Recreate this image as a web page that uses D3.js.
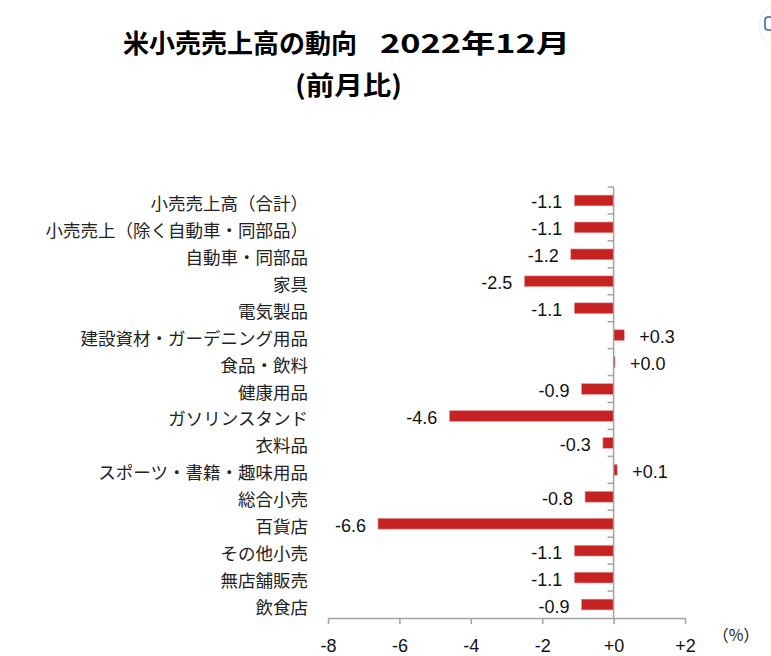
<!DOCTYPE html>
<html>
<head>
<meta charset="utf-8">
<script src="https://cdn.jsdelivr.net/npm/d3@7"></script>
<style>
  body { margin: 0; background: #fff; }
  svg { display: block; }
</style>
</head>
<body>
<div id="chart"></div>
<script>
var width = 771;
var height = 656;

// data
var categories = [
  "小売売上高（合計）",
  "小売売上（除く自動車・同部品）",
  "自動車・同部品",
  "家具",
  "電気製品",
  "建設資材・ガーデニング用品",
  "食品・飲料",
  "健康用品",
  "ガソリンスタンド",
  "衣料品",
  "スポーツ・書籍・趣味用品",
  "総合小売",
  "百貨店",
  "その他小売",
  "無店舗販売",
  "飲食店"
];
var values = [-1.1, -1.1, -1.2, -2.5, -1.1, 0.3, 0.04, -0.9, -4.6, -0.3, 0.1, -0.8, -6.6, -1.1, -1.1, -0.9];
var xTicks = [-8, -6, -4, -2, 0, 2];

var rows = categories.map((c, i) => ({ name: c, value: values[i] }));

var svg = d3.select("#chart")
  .append("svg")
  .attr("width", width)
  .attr("height", height)
  .attr("viewBox", `0 0 ${width} ${height}`);

var x = d3.scaleLinear().domain([-8, 2]).range([328, 685]);
var y = d3.scaleBand()
  .domain(categories)
  .range([187, 618])
  .paddingInner(0.6)
  .paddingOuter(0.3);

var numFont = "'Liberation Sans', Arial, 'Noto Sans CJK JP', sans-serif";
var jpFont = "'Noto Sans CJK JP', 'Liberation Sans', sans-serif";
var axisColor = "#a3a3a3";

// plain hyphen for negatives, "+" for zero and up
function signed(v, digits) {
  var s = Math.abs(v).toFixed(digits);
  return (v < 0 ? "-" : "+") + s;
}

// title
svg.append("text")
  .attr("x", 123).attr("y", 53)
  .attr("textLength", 234).attr("lengthAdjust", "spacingAndGlyphs")
  .style("font-family", jpFont).style("font-weight", "bold").style("font-size", "26px")
  .text("米小売売上高の動向");
svg.append("text")
  .attr("x", 380).attr("y", 53)
  .attr("textLength", 190).attr("lengthAdjust", "spacingAndGlyphs")
  .style("font-family", jpFont).style("font-weight", "bold").style("font-size", "26px")
  .text("2022年12月");
svg.append("text")
  .attr("x", 295).attr("y", 95)
  .attr("textLength", 107).attr("lengthAdjust", "spacingAndGlyphs")
  .style("font-family", jpFont).style("font-weight", "bold").style("font-size", "26px")
  .text("(前月比)");

// bars
svg.selectAll(".bar")
  .data(rows)
  .enter()
  .append("rect")
  .attr("class", "bar")
  .attr("x", d => x(Math.min(0, d.value)))
  .attr("width", d => Math.abs(x(d.value) - x(0)))
  .attr("y", d => y(d.name))
  .attr("height", y.bandwidth())
  .style("fill", "#c62222")
  .style("stroke", "#e8a0a0")
  .style("stroke-width", 0.6);

// value labels
svg.selectAll(".val")
  .data(rows)
  .enter()
  .append("text")
  .attr("class", "val")
  .attr("x", d => d.value < 0 ? x(d.value) - 12 : x(d.value) + 15)
  .attr("y", d => y(d.name) + y.bandwidth() / 2 + 8)
  .attr("text-anchor", d => d.value < 0 ? "end" : "start")
  .style("font-family", numFont).style("font-size", "18px").style("fill", "#111")
  .text(d => signed(d.value, 1));

// category labels
svg.selectAll(".cat")
  .data(rows)
  .enter()
  .append("text")
  .attr("class", "cat")
  .attr("x", 308)
  .attr("y", d => y(d.name) + y.bandwidth() / 2 + 9.5)
  .attr("text-anchor", "end")
  .style("font-family", jpFont).style("font-size", "17.5px").style("fill", "#222")
  .text(d => d.name);

// vertical axis at zero with separator ticks
var step = y.step();
var y0 = y.range()[0];
var y1 = y.range()[1];
svg.append("line")
  .attr("x1", x(0)).attr("x2", x(0))
  .attr("y1", y0).attr("y2", y1)
  .style("stroke", axisColor).style("stroke-width", 1.5);
svg.selectAll(".ytick")
  .data(d3.range(categories.length))
  .enter()
  .append("line")
  .attr("class", "ytick")
  .attr("x1", x(0) - 6).attr("x2", x(0))
  .attr("y1", i => y0 + i * step).attr("y2", i => y0 + i * step)
  .style("stroke", axisColor).style("stroke-width", 1.5);

// x axis
var xAxis = d3.axisBottom(x)
  .tickValues(xTicks)
  .tickSize(6)
  .tickSizeOuter(0)
  .tickFormat(d => signed(d, 0));

var gx = svg.append("g")
  .attr("transform", `translate(0,${y1})`)
  .call(xAxis);
gx.select(".domain").style("stroke", axisColor).style("stroke-width", 1.5);
gx.selectAll(".tick line").style("stroke", axisColor).style("stroke-width", 1.5);
gx.selectAll(".tick text")
  .attr("y", 21).attr("dy", "0.71em")
  .style("font-family", numFont).style("font-size", "18px").style("fill", "#111");

svg.append("text")
  .attr("x", 736).attr("y", 641)
  .attr("text-anchor", "middle")
  .style("font-family", jpFont).style("font-size", "16px").style("fill", "#222")
  .text("（%）");

// small round button clipped at the top right edge
svg.append("circle")
  .attr("cx", 781).attr("cy", 26).attr("r", 22)
  .style("fill", "#fff").style("stroke", "#ececec");
svg.append("rect")
  .attr("x", 765).attr("y", 17).attr("width", 10).attr("height", 13).attr("rx", 3)
  .style("fill", "none").style("stroke", "#3b6aa0").style("stroke-width", 1.6);
</script>
</body>
</html>
